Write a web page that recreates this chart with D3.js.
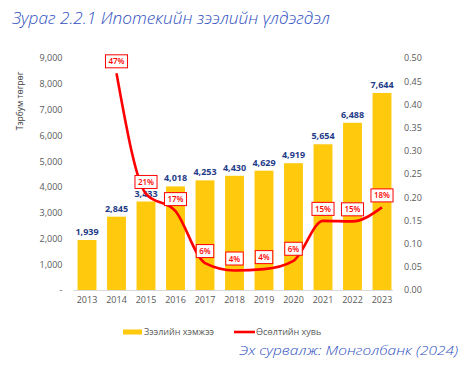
<!DOCTYPE html>
<html>
<head>
<meta charset="utf-8">
<script src="https://cdn.jsdelivr.net/npm/d3@7/dist/d3.min.js"></script>
<style>
  html, body { margin: 0; padding: 0; background: #fff; }
  svg { display: block; }
  text { font-family: "Open Sans", "Noto Sans", sans-serif; }
</style>
</head>
<body>
<svg id="chart" width="472" height="368"></svg>
<script>
const years = ["2013","2014","2015","2016","2017","2018","2019","2020","2021","2022","2023"];
const loanSize = [1939, 2845, 3433, 4018, 4253, 4430, 4629, 4919, 5654, 6488, 7644];
const growthYears = ["2014","2015","2016","2017","2018","2019","2020","2021","2022","2023"];
const growthRate = [0.467, 0.207, 0.170, 0.058, 0.042, 0.045, 0.063, 0.149, 0.148, 0.178];
const growthLabels = ["47%","21%","17%","6%","4%","4%","6%","15%","15%","18%"];
const leftTicks = [0, 1000, 2000, 3000, 4000, 5000, 6000, 7000, 8000, 9000];
const rightTicks = [0, 0.05, 0.10, 0.15, 0.20, 0.25, 0.30, 0.35, 0.40, 0.45, 0.50];
const titleText = "Зураг 2.2.1 Ипотекийн зээлийн үлдэгдэл";
const yTitle = "Тэрбум төгрөг";
const legendBar = "Зээлийн хэмжээ";
const legendLine = "Өсөлтийн хувь";
const sourceText = "Эх сурвалж: Монголбанк (2024)";

const svg = d3.select("#chart");
const gray = "#595959";
const barColor = "#FFC90E";
const navy = "#1F3C88";
const red = "#FF0000";
const blue = "#3050C0";

const x = d3.scaleBand().domain(years).range([72.25, 396.75]).paddingInner(0.36).paddingOuter(0.18);
const yL = d3.scaleLinear().domain([0, 9000]).range([290, 58]);
const yR = d3.scaleLinear().domain([0, 0.5]).range([290, 58]);

// Title
svg.append("text").attr("x", 12).attr("y", 23.5)
  .attr("font-size", 16.5).attr("font-style", "italic").attr("font-weight", 300)
  .attr("fill", blue).attr("textLength", 318).attr("lengthAdjust", "spacingAndGlyphs")
  .text(titleText);

// Left axis
const axL = d3.axisLeft(yL).tickValues(leftTicks).tickSize(0).tickPadding(0)
  .tickFormat(d => d === 0 ? "-" : d3.format(",")(d));
const gL = svg.append("g").attr("transform", "translate(62.5,0)").call(axL);
gL.select(".domain").remove();
gL.selectAll("text").attr("font-size", 9).attr("fill", gray).attr("font-family", "Open Sans");

// Right axis
const axR = d3.axisRight(yR).tickValues(rightTicks).tickSize(0).tickPadding(0)
  .tickFormat(d3.format(".2f"));
const gR = svg.append("g").attr("transform", "translate(404,0)").call(axR);
gR.select(".domain").remove();
gR.selectAll("text").attr("font-size", 9).attr("fill", gray).attr("font-family", "Open Sans");

// Y title
svg.append("text").attr("transform", "translate(23,101) rotate(-90)")
  .attr("text-anchor", "middle").attr("font-size", 8.5).attr("fill", "#404040")
  .text(yTitle);

// Bars
svg.append("g").selectAll("rect").data(years).join("rect")
  .attr("x", d => x(d)).attr("width", x.bandwidth())
  .attr("y", (d, i) => yL(loanSize[i]))
  .attr("height", (d, i) => yL(0) - yL(loanSize[i]))
  .attr("fill", barColor);

// Baseline
svg.append("line").attr("x1", 73).attr("x2", 393).attr("y1", 290.5).attr("y2", 290.5)
  .attr("stroke", "#D9D9D9").attr("stroke-width", 1.2);

// X labels
const axX = d3.axisBottom(x).tickSize(0).tickPadding(0);
const gX = svg.append("g").attr("transform", "translate(0,297)").call(axX);
gX.select(".domain").remove();
gX.selectAll("text").attr("font-size", 9).attr("fill", gray).attr("font-family", "Open Sans");

// Bar value labels
svg.append("g").selectAll("text").data(years).join("text")
  .attr("x", d => x(d) + x.bandwidth() / 2)
  .attr("y", (d, i) => yL(loanSize[i]) - 5)
  .attr("text-anchor", "middle").attr("font-size", 9).attr("font-weight", 700)
  .attr("fill", navy)
  .text((d, i) => d3.format(",")(loanSize[i]));

// Growth line
const pts = growthYears.map((d, i) => [x(d) + x.bandwidth() / 2, yR(growthRate[i])]);
svg.append("path").attr("d", d3.line().curve(d3.curveMonotoneX)(pts))
  .attr("fill", "none").attr("stroke", red).attr("stroke-width", 2.6)
  .attr("stroke-linejoin", "round");

// Growth labels
const lg = svg.append("g");
growthYears.forEach((d, i) => {
  const cx = x(d) + x.bandwidth() / 2;
  const cy = yR(growthRate[i]) - 12;
  const g = lg.append("g");
  const t = g.append("text").attr("x", cx).attr("y", cy + 3)
    .attr("text-anchor", "middle").attr("font-size", 8).attr("font-weight", 600)
    .attr("fill", red).text(growthLabels[i]);
  const w = t.node().getComputedTextLength() + 6;
  g.insert("rect", "text").attr("x", cx - w / 2).attr("y", cy - 6.5)
    .attr("width", w).attr("height", 13)
    .attr("fill", "#fff").attr("stroke", red).attr("stroke-width", 1);
});

// Legend
svg.append("rect").attr("x", 123).attr("y", 329.5).attr("width", 19).attr("height", 5).attr("fill", barColor);
svg.append("text").attr("x", 144).attr("y", 335).attr("font-size", 9).attr("fill", gray).text(legendBar);
svg.append("line").attr("x1", 234).attr("x2", 255).attr("y1", 332).attr("y2", 332)
  .attr("stroke", red).attr("stroke-width", 2.6);
svg.append("text").attr("x", 256).attr("y", 335).attr("font-size", 9).attr("fill", gray).text(legendLine);

// Source
svg.append("text").attr("x", 458).attr("y", 355).attr("text-anchor", "end")
  .attr("font-size", 12).attr("font-style", "italic").attr("font-weight", 300)
  .attr("fill", blue).attr("textLength", 219).attr("lengthAdjust", "spacingAndGlyphs")
  .text(sourceText);
</script>
</body>
</html>
